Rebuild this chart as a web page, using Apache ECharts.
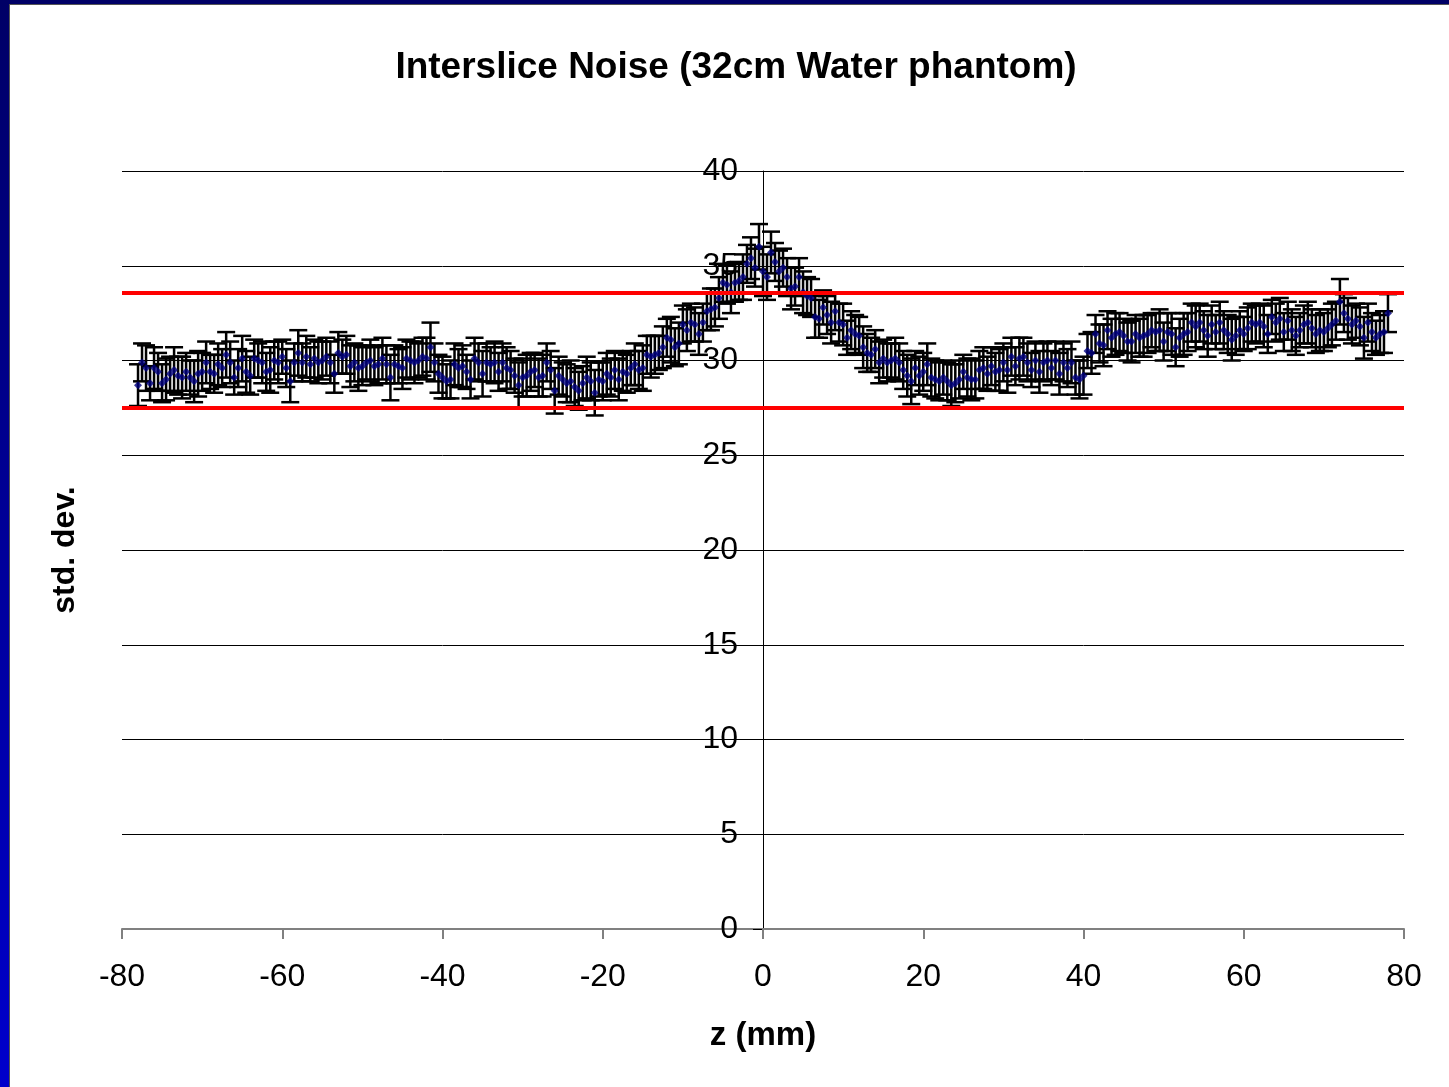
<!DOCTYPE html>
<html>
<head>
<meta charset="utf-8">
<title>Interslice Noise</title>
<script src="https://cdn.jsdelivr.net/npm/echarts@6/dist/echarts.min.js"></script>
<style>
  html, body { margin: 0; padding: 0; background: #fff; }
  #main { width: 1449px; height: 1087px; }
</style>
</head>
<body>
<div id="main"></div>
<script>
// sample grid along z (mm)
var Z_START = -78;
var Z_STEP = 0.5;

// std. dev. per slice, one row = 10 mm
var noise = [
    28.7,29.9,29.6,28.8,29.6,29.4,28.8,29.0,29.3,29.5,29.2,29.1,29.4,29.1,28.9,29.3,29.4,29.9,29.4,29.3,
    29.8,29.6,30.3,29.9,29.1,29.6,30.1,29.4,29.2,30.1,30.0,29.9,29.4,29.5,30.0,29.9,30.2,29.6,28.9,29.9,
    30.4,29.9,30.2,29.8,30.1,29.9,30.0,30.2,29.9,29.3,30.4,30.2,30.3,29.7,29.9,29.6,29.7,29.9,30.0,29.7,
    29.8,30.1,29.8,29.1,29.8,29.7,29.6,30.1,30.0,29.9,30.0,30.2,30.1,30.7,29.9,29.3,29.1,28.9,29.0,29.8,
    29.6,29.7,29.4,29.0,30.1,29.9,29.3,29.9,29.8,29.9,29.4,29.9,29.6,29.5,29.2,28.7,29.1,29.2,29.4,29.5,
    29.1,29.2,29.9,29.5,28.4,29.2,29.0,28.8,28.9,28.6,28.4,28.8,29.1,28.9,28.3,29.0,28.9,29.3,29.1,29.5,
    29.0,29.4,29.3,29.6,29.8,29.5,29.6,30.3,30.2,30.3,30.4,30.7,31.2,31.1,30.7,30.9,31.9,31.6,32.0,31.9,
    31.4,32.0,32.6,32.7,32.8,33.3,34.1,34.0,33.6,34.1,34.2,34.4,35.1,35.4,34.9,36.0,34.7,34.4,35.7,35.2,
    34.7,34.9,34.4,33.8,33.9,34.4,33.6,33.4,33.3,32.3,32.2,32.8,32.4,32.0,32.6,32.0,31.9,31.2,31.6,31.4,
    31.3,30.7,30.4,30.3,30.6,29.9,30.1,29.9,30.0,30.1,29.9,29.5,29.2,28.9,29.6,29.2,29.4,29.8,29.1,29.0,
    28.9,29.1,28.9,28.7,28.8,29.0,29.4,29.1,29.0,29.0,29.5,29.6,29.3,29.7,29.4,29.5,29.9,29.5,30.2,29.7,
    30.1,30.2,29.9,29.5,30.0,29.4,29.9,30.0,29.6,30.0,29.3,29.9,29.6,29.9,29.1,29.0,29.2,30.5,30.4,31.4,
    30.9,30.8,31.6,31.2,31.4,31.5,31.3,31.0,31.0,31.4,31.2,31.3,31.4,31.6,31.5,31.6,31.0,31.5,31.4,30.7,
    31.2,31.4,31.5,32.0,31.8,32.0,31.6,31.3,31.9,31.5,32.0,31.6,31.4,31.1,31.3,31.6,31.4,31.7,32.0,31.9,
    32.0,31.8,31.4,32.3,32.0,32.2,31.5,32.1,31.6,31.3,31.6,31.9,32.0,31.7,31.4,31.6,31.5,31.7,31.9,32.1,
    33.1,32.5,32.2,31.9,32.1,31.8,31.2,32.0,31.5,31.2,31.4,31.5,32.5
];

// half length of each error bar
var noiseErr = [
    1.1,1.0,1.2,0.9,1.1,1.0,1.0,1.1,0.9,1.2,1.0,1.1,1.0,0.9,1.1,1.2,1.0,1.1,0.9,1.0,
    1.1,1.0,1.2,1.1,0.9,1.0,1.2,1.1,1.0,1.0,0.9,1.1,1.0,1.2,1.0,1.1,0.9,1.0,1.1,1.0,
    1.2,1.0,1.1,0.9,1.0,1.1,1.0,1.0,1.1,1.0,1.1,0.9,1.0,1.1,1.0,1.2,1.0,0.9,1.1,1.0,
    1.0,1.1,1.0,1.2,1.0,0.9,1.1,1.0,1.0,1.1,0.9,1.0,1.1,1.3,1.0,1.0,1.1,0.9,1.0,1.1,
    1.0,1.1,0.9,1.0,1.1,1.0,1.2,1.0,0.9,1.1,1.0,1.0,1.1,1.0,0.9,1.2,1.0,1.1,1.0,0.9,
    1.0,1.1,1.0,1.0,1.2,1.0,0.9,1.0,1.1,1.0,1.0,0.9,1.1,1.0,1.2,0.9,1.0,1.1,1.0,1.0,
    1.1,1.0,1.0,0.9,1.1,1.0,1.2,1.0,1.1,1.0,0.9,1.1,1.0,1.2,1.0,1.1,1.0,1.1,1.0,0.9,
    1.1,1.0,1.0,1.1,1.0,1.1,1.0,1.0,1.1,1.0,1.0,1.2,1.0,1.1,1.0,1.2,1.3,1.2,1.1,1.0,
    1.1,1.0,1.0,1.1,1.0,1.0,1.1,1.0,1.0,1.1,1.0,0.9,1.0,1.1,1.0,1.0,1.1,0.9,1.0,1.0,
    1.0,1.1,1.0,0.9,1.0,1.1,1.0,1.0,0.9,1.1,1.0,1.0,1.1,1.2,0.9,1.0,1.0,1.1,1.0,1.0,
    1.0,0.9,1.0,1.1,1.0,1.0,0.9,1.0,1.1,1.0,1.0,1.1,0.9,1.0,1.0,1.1,1.0,1.2,1.0,1.0,
    1.1,1.0,1.0,0.9,1.0,1.1,1.0,1.0,0.9,1.0,1.1,1.0,1.0,1.1,0.9,1.0,1.0,0.9,1.1,1.0,
    1.0,1.1,1.0,1.0,1.1,1.0,0.9,1.0,1.1,1.0,1.0,1.1,1.0,0.9,1.0,1.1,1.0,1.0,1.1,1.0,
    1.0,1.1,1.0,1.0,1.1,1.0,1.0,1.1,1.0,0.9,1.1,1.0,1.0,1.1,1.0,1.0,0.9,1.1,1.0,1.0,
    1.0,1.1,1.0,0.9,1.0,1.1,1.0,1.0,1.1,1.0,0.9,1.0,1.1,1.0,1.0,1.1,1.0,1.0,1.1,1.0,
    1.2,1.0,1.1,1.0,0.9,1.0,1.1,1.0,1.0,0.9,1.0,1.1,1.0
];

// tolerance lines
var upperLimit = 33.6;
var lowerLimit = 27.5;

var pts = [];
var bars = [];
for (var i = 0; i < noise.length; i++) {
    var z = Z_START + i * Z_STEP;
    pts.push([z, noise[i]]);
    bars.push([z, noise[i] - noiseErr[i], noise[i] + noiseErr[i]]);
}

var myChart = echarts.init(document.getElementById('main'));
var font = 'Liberation Sans, Arial, sans-serif';

// y axis sits at z = 0, i.e. the middle of the plot
var plotLeft = 122, plotRight = 45;
var yAxisShift = -(1449 - plotLeft - plotRight) / 2;

var option = {
    backgroundColor: '#fff',
    animation: false,
    graphic: [
        { type: 'rect', left: 0, top: 0, shape: { width: 9, height: 1087 },
          style: { fill: new echarts.graphic.LinearGradient(0, 0, 0, 1, [
              { offset: 0, color: '#000066' }, { offset: 1, color: '#0000cc' }]) } },
        { type: 'rect', left: 0, top: 0, shape: { width: 1449, height: 4 }, style: { fill: '#000066' } },
        { type: 'rect', left: 9, top: 4, shape: { width: 1, height: 1083 }, style: { fill: '#555' } },
        { type: 'rect', left: 9, top: 4, shape: { width: 1440, height: 1 }, style: { fill: '#555' } },
        // title
        { type: 'text', x: 736, y: 68,
          style: { text: 'Interslice Noise (32cm Water phantom)', fill: '#000',
                   font: 'bold 37px ' + font, textAlign: 'center', textVerticalAlign: 'middle' } },
        // y axis name
        { type: 'text', x: 65, y: 550, rotation: Math.PI / 2,
          style: { text: 'std. dev.', fill: '#000',
                   font: 'bold 32px ' + font, textAlign: 'center', textVerticalAlign: 'middle' } }
    ],
    grid: { left: plotLeft, right: plotRight, top: 171, bottom: 158, outerBoundsMode: 'none', containLabel: false },
    xAxis: {
        type: 'value',
        min: -80, max: 80, interval: 20,
        name: 'z (mm)',
        nameLocation: 'middle',
        nameGap: 90,
        nameTextStyle: { fontFamily: font, fontSize: 33, fontWeight: 'bold', color: '#000' },
        axisLine: { onZero: false, lineStyle: { color: '#808080', width: 2 } },
        axisTick: { show: true, length: 10, lineStyle: { color: '#808080', width: 2 } },
        axisLabel: { fontFamily: font, fontSize: 32, color: '#000', margin: 32 },
        splitLine: { show: false }
    },
    yAxis: {
        type: 'value',
        min: 0, max: 40, interval: 5,
        offset: yAxisShift,
        axisLine: { show: true, onZero: false, lineStyle: { color: '#000', width: 1 } },
        axisTick: { show: true, length: 10, lineStyle: { color: '#000' } },
        axisLabel: { fontFamily: font, fontSize: 32, color: '#000', margin: 25 },
        splitLine: { show: true, lineStyle: { color: '#000', width: 1 } }
    },
    series: [
        {
            name: 'error',
            type: 'custom',
            z: 2,
            data: bars,
            renderItem: function (params, api) {
                var x = api.value(0);
                var lo = api.coord([x, api.value(1)]);
                var hi = api.coord([x, api.value(2)]);
                var w = 9;
                var st = { stroke: '#000', lineWidth: 2.5 };
                return {
                    type: 'group',
                    children: [
                        { type: 'line', shape: { x1: lo[0], y1: lo[1], x2: hi[0], y2: hi[1] }, style: st },
                        { type: 'line', shape: { x1: lo[0] - w, y1: lo[1], x2: lo[0] + w, y2: lo[1] }, style: st },
                        { type: 'line', shape: { x1: hi[0] - w, y1: hi[1], x2: hi[0] + w, y2: hi[1] }, style: st }
                    ]
                };
            }
        },
        {
            name: 'limits',
            type: 'line',
            z: 3,
            data: [],
            markLine: {
                silent: true,
                symbol: ['none', 'none'],
                label: { show: false },
                lineStyle: { color: '#ff0000', width: 4, type: 'solid' },
                data: [{ yAxis: upperLimit }, { yAxis: lowerLimit }]
            }
        },
        {
            name: 'noise',
            type: 'scatter',
            z: 4,
            data: pts,
            symbol: 'diamond',
            symbolSize: 8,
            itemStyle: { color: '#000080' }
        }
    ]
};
myChart.setOption(option);
</script>
</body>
</html>
